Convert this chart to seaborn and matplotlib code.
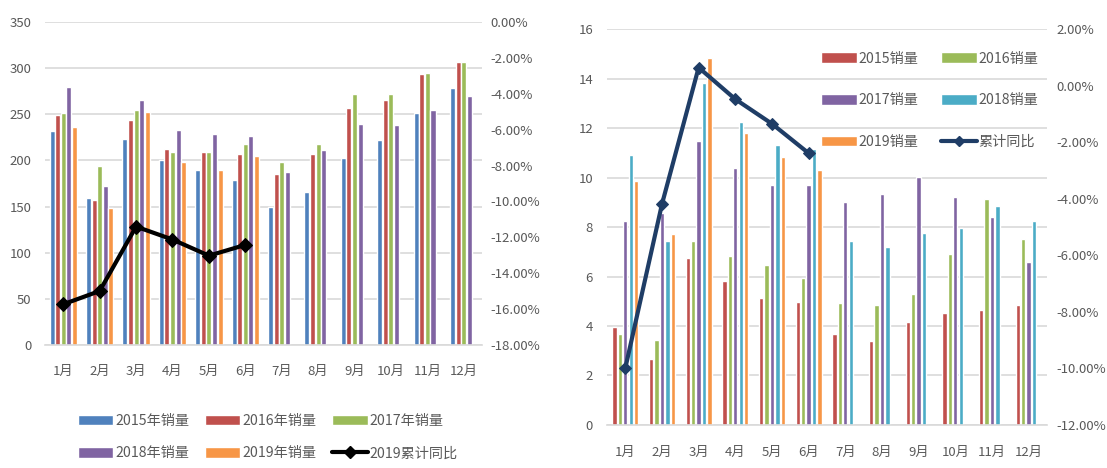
import matplotlib
matplotlib.use("Agg")
import matplotlib.pyplot as plt
import matplotlib.ticker as mticker
from matplotlib.lines import Line2D
import numpy as np
import pandas as pd
import seaborn as sns

# ---- data -------------------------------------------------------------
months = ["1月", "2月", "3月", "4月", "5月", "6月",
          "7月", "8月", "9月", "10月", "11月", "12月"]

# left panel: monthly sales by year
left_series = ["2015年销量", "2016年销量", "2017年销量", "2018年销量", "2019年销量"]
left_2015 = [232, 159, 223, 200, 190, 179, 150, 166, 203, 222, 251, 279]
left_2016 = [249, 157, 244, 212, 209, 207, 185, 207, 257, 266, 294, 307]
left_2017 = [251, 194, 255, 209, 209, 218, 198, 218, 272, 272, 295, 307]
left_2018 = [280, 172, 266, 233, 229, 227, 188, 211, 240, 238, 255, 270]
left_2019 = [236, 148, 253, 198, 190, 205, np.nan, np.nan, np.nan, np.nan, np.nan, np.nan]
left_yoy_label = "2019累计同比"
left_yoy = [-15.73, -14.99, -11.40, -12.12, -13.02, -12.42]

# right panel: monthly sales by year
right_series = ["2015销量", "2016销量", "2017销量", "2018销量", "2019销量"]
right_2015 = [3.94, 2.67, 6.75, 5.82, 5.12, 4.99, 3.67, 3.40, 4.15, 4.52, 4.65, 4.85]
right_2016 = [3.67, 3.44, 7.45, 6.82, 6.47, 5.92, 4.92, 4.85, 5.28, 6.90, 9.14, 7.52]
right_2017 = [8.24, 8.56, 11.46, 10.40, 9.69, 9.69, 9.00, 9.35, 10.04, 9.20, 8.42, 6.60]
right_2018 = [10.90, 7.45, 13.84, 12.23, 11.31, 11.17, 7.45, 7.18, 7.75, 7.97, 8.86, 8.24]
right_2019 = [9.84, 7.72, 14.83, 11.79, 10.82, 10.32, np.nan, np.nan, np.nan, np.nan, np.nan, np.nan]
right_yoy_label = "累计同比"
right_yoy = [-9.99, -4.19, 0.64, -0.48, -1.35, -2.39]

# ---- style ------------------------------------------------------------
sns.set_theme(style="white")
plt.rcParams["font.family"] = ["Noto Sans CJK SC", "DejaVu Sans"]
plt.rcParams["axes.unicode_minus"] = False

TEXT = "#595959"
GRID = "#D9D9D9"
TICK_FS = 9.5
LEG_FS = 10.2


def long_frame(series_names, columns):
    rows = []
    for name, vals in zip(series_names, columns):
        for m, v in zip(months, vals):
            rows.append({"month": m, "series": name, "value": v})
    return pd.DataFrame(rows)


def style_axes(ax, ax2):
    for a in (ax, ax2):
        for s in a.spines.values():
            s.set_visible(False)
        a.tick_params(length=0, colors=TEXT, labelsize=TICK_FS)
    ax.spines["bottom"].set_visible(True)
    ax.spines["bottom"].set_color(GRID)
    ax.spines["bottom"].set_linewidth(1.2)
    ax.yaxis.grid(True, color=GRID, linewidth=1.2)
    ax.set_axisbelow(True)
    ax.set_xlabel("")
    ax.set_ylabel("")
    ax2.set_ylabel("")


fig = plt.figure(figsize=(11.07, 4.68), dpi=100)

# ---- left panel -------------------------------------------------------
axL = fig.add_axes([0.0407, 0.2628, 0.3947, 0.690])
dfL = long_frame(left_series, [left_2015, left_2016, left_2017, left_2018, left_2019])
left_colors = ["#4F81BD", "#C0504D", "#9BBB59", "#8064A2", "#F79646"]
sns.barplot(data=dfL, x="month", y="value", hue="series", order=months,
            hue_order=left_series, palette=left_colors, saturation=1,
            width=0.77, gap=0.1, ax=axL, legend=True)
axL.set_ylim(0, 350)
axL.yaxis.set_major_locator(mticker.MultipleLocator(50))
axL2 = axL.twinx()
sns.lineplot(x=list(range(len(left_yoy))), y=left_yoy, ax=axL2, color="black",
             linewidth=3, marker="D", markersize=7, markeredgecolor="black")
axL2.set_ylim(-18, 0)
axL2.yaxis.set_major_locator(mticker.MultipleLocator(2))
axL2.yaxis.set_major_formatter(mticker.FuncFormatter(lambda v, p: f"{v:.2f}%"))
axL.set_xlim(-0.5, 11.5)
style_axes(axL, axL2)
axL.tick_params(axis="y", pad=10)
axL.tick_params(axis="x", pad=14)
axL2.tick_params(axis="y", pad=6)

hL, lL = axL.get_legend_handles_labels()
axL.get_legend().remove()
line_h = Line2D([], [], color="black", linewidth=3, marker="D", markersize=6)
handles = [hL[0], hL[3], hL[1], hL[4], hL[2], line_h]
labels = [lL[0], lL[3], lL[1], lL[4], lL[2], left_yoy_label]
fig.legend(handles, labels, ncol=3, loc="center", bbox_to_anchor=(0.242, 0.066),
           frameon=False, fontsize=LEG_FS, labelcolor=TEXT, handlelength=2.5,
           handleheight=0.8, handletextpad=0.15, columnspacing=1.1,
           labelspacing=1.3)

# ---- right panel ------------------------------------------------------
axR = fig.add_axes([0.5483, 0.0919, 0.3975, 0.846])
dfR = long_frame(right_series, [right_2015, right_2016, right_2017, right_2018, right_2019])
right_colors = ["#C0504D", "#9BBB59", "#8064A2", "#4BACC6", "#F79646"]
sns.barplot(data=dfR, x="month", y="value", hue="series", order=months,
            hue_order=right_series, palette=right_colors, saturation=1,
            width=0.74, gap=0.2, ax=axR, legend=True)
axR.set_ylim(0, 16)
axR.yaxis.set_major_locator(mticker.MultipleLocator(2))
axR2 = axR.twinx()
sns.lineplot(x=list(range(len(right_yoy))), y=right_yoy, ax=axR2, color="#1F3D66",
             linewidth=3, marker="D", markersize=6.5, markeredgecolor="#1F3D66")
axR2.set_ylim(-12, 2)
axR2.yaxis.set_major_locator(mticker.MultipleLocator(2))
axR2.yaxis.set_major_formatter(mticker.FuncFormatter(lambda v, p: f"{v:.2f}%"))
axR.set_xlim(-0.5, 11.5)
style_axes(axR, axR2)
axR.tick_params(axis="y", pad=10)
axR.tick_params(axis="x", pad=15)
axR2.tick_params(axis="y", pad=7)

hR, lR = axR.get_legend_handles_labels()
axR.get_legend().remove()
line_r = Line2D([], [], color="#1F3D66", linewidth=3, marker="D", markersize=5)
handles = [hR[0], hR[2], hR[4], hR[1], hR[3], line_r]
labels = [lR[0], lR[2], lR[4], lR[1], lR[3], right_yoy_label]
axR2.legend(handles, labels, ncol=2, loc="upper right", bbox_to_anchor=(1.01, 0.975),
            frameon=False, fontsize=LEG_FS, labelcolor=TEXT, handlelength=2.5,
            handleheight=0.8, handletextpad=0.15, columnspacing=1.6,
            labelspacing=1.95)

fig.savefig("out.png", dpi=100)
